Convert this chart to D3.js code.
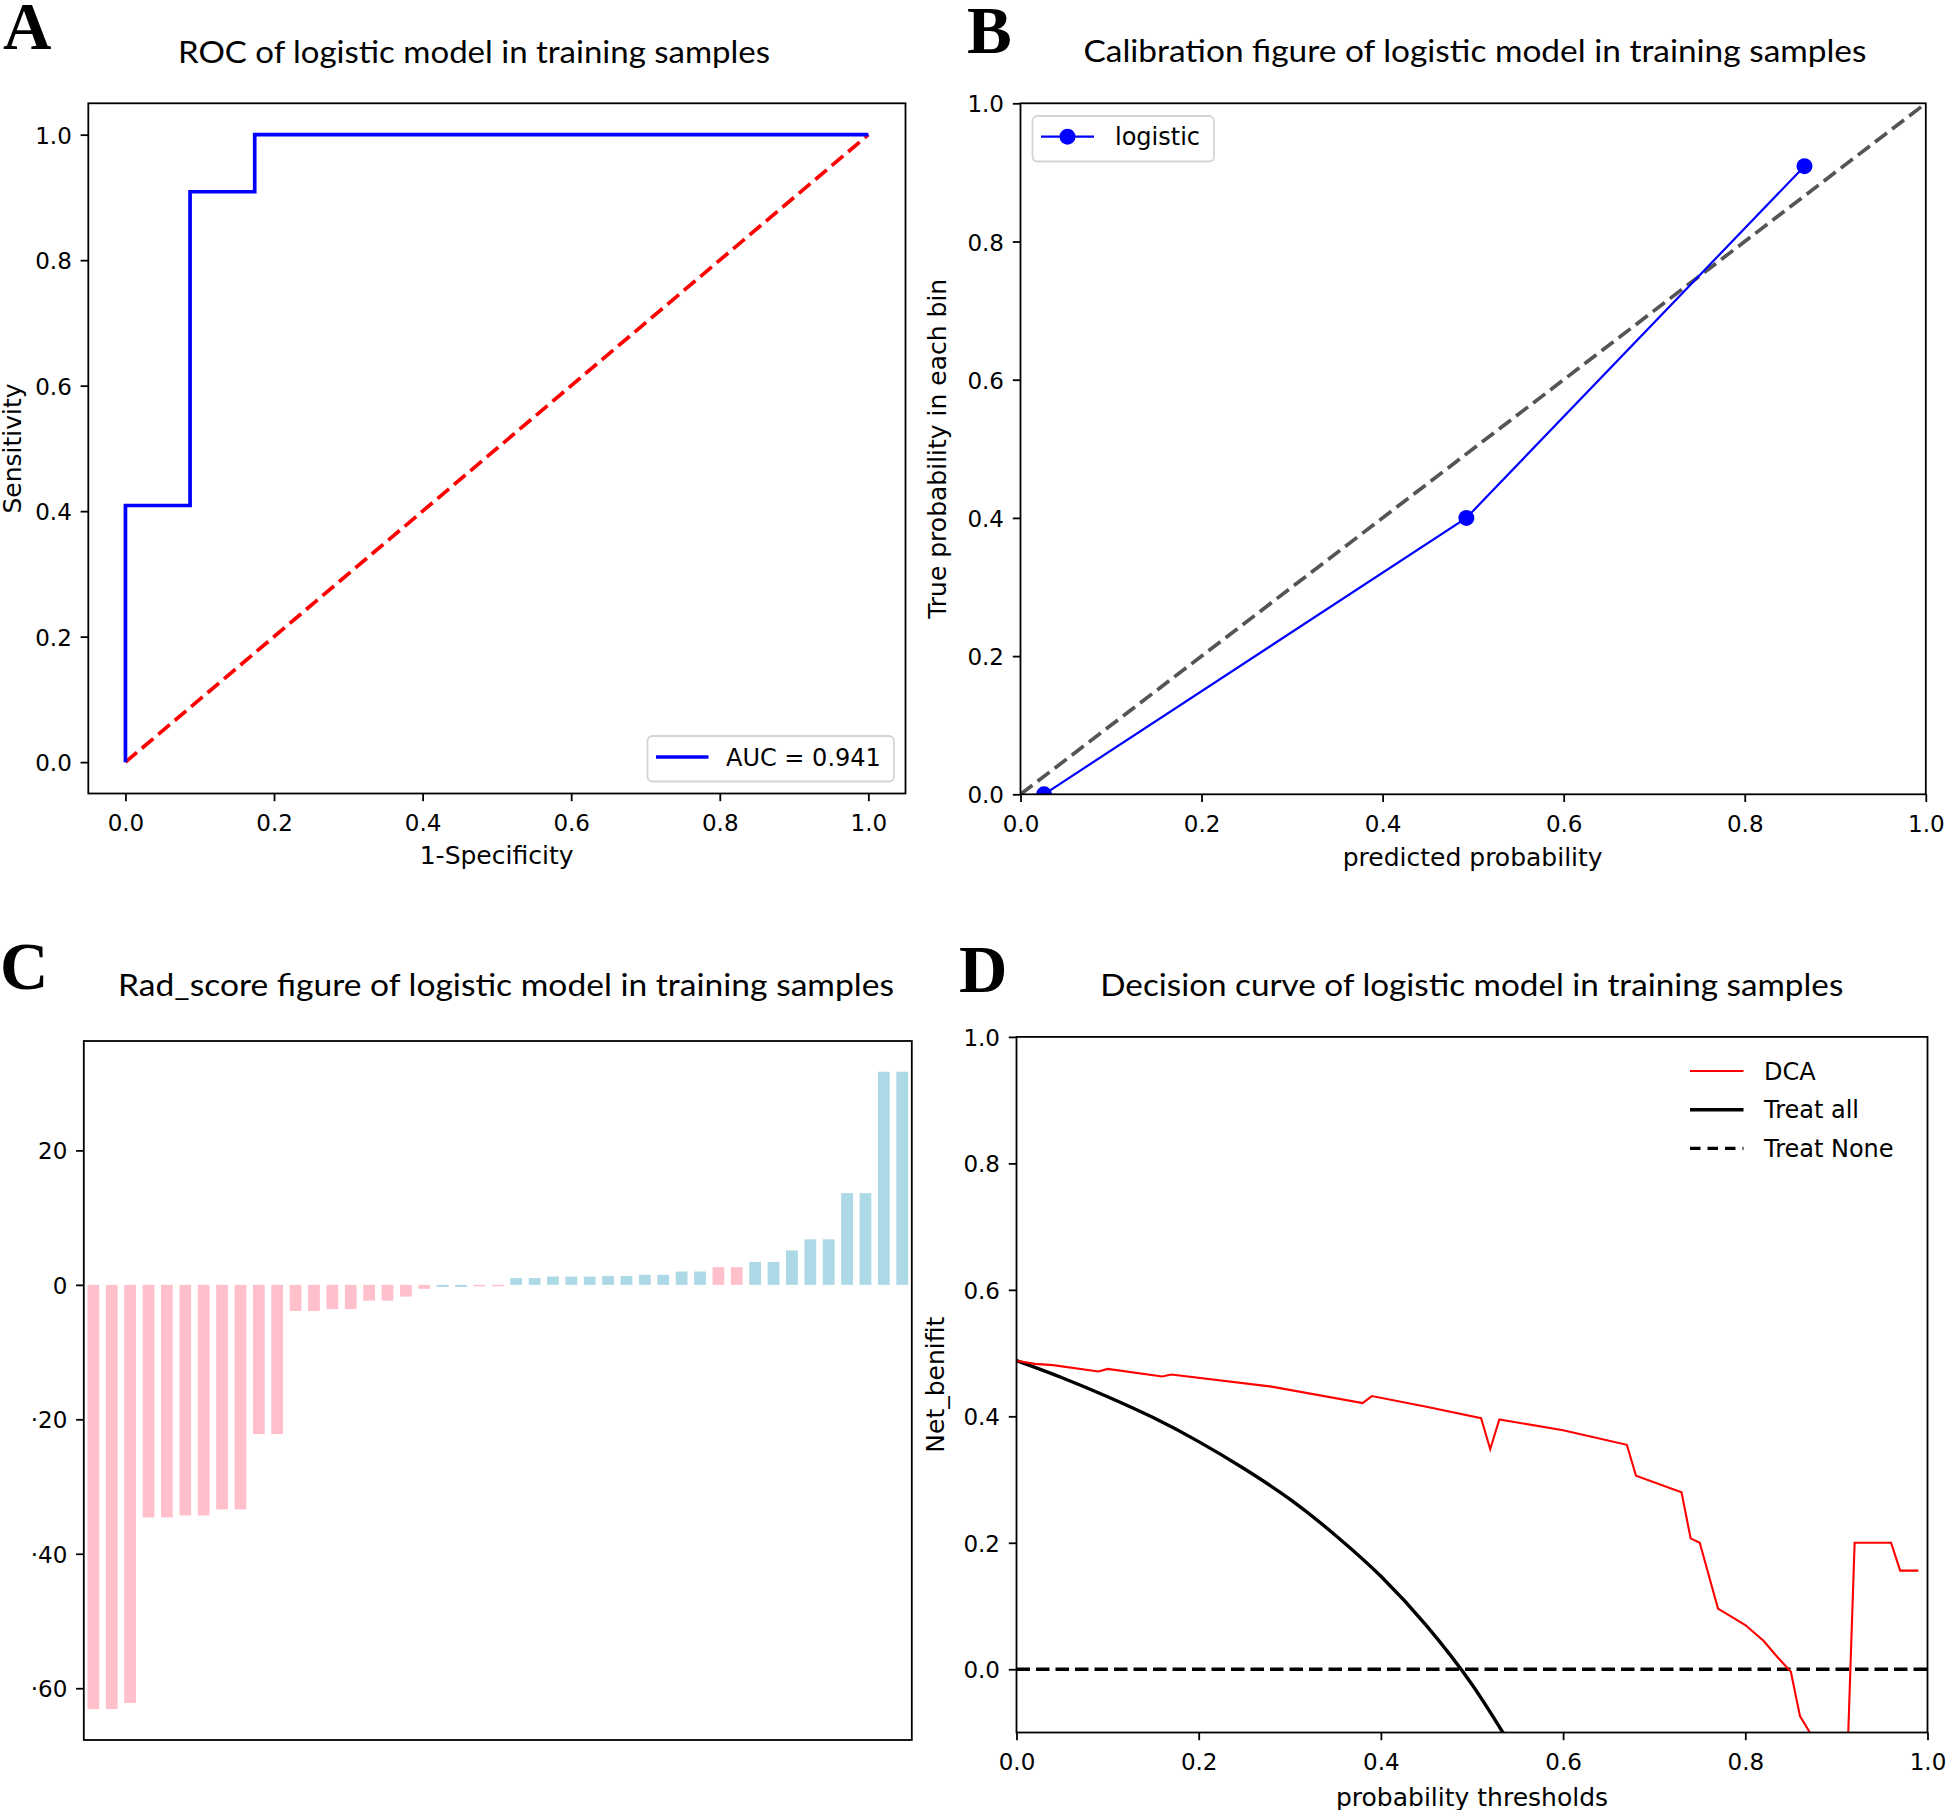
<!DOCTYPE html>
<html>
<head>
<meta charset="utf-8">
<script src="https://cdn.jsdelivr.net/npm/d3@7"></script>
<style>body{margin:0;background:#fff}</style>
</head>
<body>
<script>
// ---------- data ----------
// A: ROC
var rocFpr = [0, 0, 0.087, 0.087, 0.174, 0.174, 1];
var rocTpr = [0, 0.409, 0.409, 0.909, 0.909, 1, 1];
var rocChance = [0, 1];
var rocAuc = "AUC = 0.941";

// B: calibration
var calPred = [0.026, 0.4925, 0.866];
var calTrue = [0.0, 0.4, 0.909];
var calPerfect = [0, 1];

// C: rad_score (sorted), class 0 = pink, 1 = lightblue
var radScore = [-63.1, -63.1, -62.2, -34.6, -34.6, -34.3, -34.3, -33.4, -33.4, -22.2, -22.2,
  -3.9, -3.9, -3.6, -3.6, -2.35, -2.35, -1.75, -0.6, -0.3, -0.3, -0.2, -0.2,
  1.0, 1.0, 1.23, 1.23, 1.23, 1.33, 1.33, 1.49, 1.49, 1.98, 1.98, 2.63, 2.63,
  3.42, 3.42, 5.13, 6.77, 6.77, 13.65, 13.65, 31.7, 31.7];
var radClass = [0,0,0,0,0,0,0,0,0,0,0,0,0,0,0,0,0,0,0,1,1,0,0,1,1,1,1,1,1,1,1,1,1,1,0,0,1,1,1,1,1,1,1,1,1];
var radTicks = [20, 0, -20, -40, -60];

// D: decision curve
var dcaX = [0, 0.02, 0.04, 0.09, 0.10, 0.16, 0.17, 0.28, 0.38, 0.39, 0.45, 0.51, 0.52, 0.53, 0.60, 0.67, 0.68,
  0.73, 0.74, 0.75, 0.77, 0.80, 0.82, 0.833, 0.85, 0.86, 0.87, 0.88, 0.89, 0.90, 0.91, 0.92, 0.96, 0.97, 0.99];
var dcaY = [0.488, 0.483, 0.481, 0.471, 0.475, 0.463, 0.466, 0.447, 0.421, 0.432, 0.415, 0.397, 0.348, 0.395, 0.378, 0.355, 0.306,
  0.280, 0.207, 0.200, 0.096, 0.070, 0.045, 0.023, -0.004, -0.074, -0.098, -0.16, -0.20, -0.22, -0.23, 0.200, 0.200, 0.156, 0.156];
var allX = [0, 0.05, 0.1, 0.15, 0.2, 0.25, 0.3, 0.35, 0.4, 0.45, 0.5, 0.55];
var allY = [0.488, 0.461, 0.431, 0.398, 0.360, 0.317, 0.269, 0.212, 0.147, 0.069, -0.024, -0.138];
var noneX = [0, 1];
var noneY = [0, 0];

var unitTicks = [0, 0.2, 0.4, 0.6, 0.8, 1.0];

// ---------- setup ----------
var tickFont = "'DejaVu Sans', sans-serif";
var titleFont = "Lato, 'Open Sans', sans-serif";
var letterFont = "'Liberation Serif', 'DejaVu Serif', serif";

var svg = d3.select("body").append("svg")
  .attr("width", 1946).attr("height", 1810)
  .style("background", "#fff");

var fmt1 = d3.format(".1f");

function clipFor(id, x0, x1, y0, y1) {
  svg.append("clipPath").attr("id", id).append("rect")
    .attr("x", x0).attr("y", y0).attr("width", x1 - x0).attr("height", y1 - y0);
  return svg.append("g").attr("clip-path", "url(#" + id + ")");
}

function frame(x0, x1, y0, y1) {
  svg.append("rect").attr("x", x0).attr("y", y0)
    .attr("width", x1 - x0).attr("height", y1 - y0)
    .attr("fill", "none").attr("stroke", "#000").attr("stroke-width", 1.8);
}

function xAxis(scale, ticks, yPos, f) {
  var a = svg.append("g").attr("transform", "translate(0," + yPos + ")")
    .call(d3.axisBottom(scale).tickValues(ticks).tickSize(7.7).tickFormat(f));
  a.select(".domain").remove();
  a.selectAll(".tick line").attr("stroke", "#000").attr("stroke-width", 1.8);
  a.selectAll(".tick text").attr("y", 37.5).attr("dy", null).attr("fill", "#000")
    .style("font-family", tickFont).style("font-size", "23px");
}

function yAxis(scale, ticks, xPos, f) {
  var a = svg.append("g").attr("transform", "translate(" + xPos + ",0)")
    .call(d3.axisLeft(scale).tickValues(ticks).tickSize(7.7).tickFormat(f));
  a.select(".domain").remove();
  a.selectAll(".tick line").attr("stroke", "#000").attr("stroke-width", 1.8);
  a.selectAll(".tick text").attr("x", -16.5).attr("y", 8.5).attr("dy", null).attr("fill", "#000")
    .style("font-family", tickFont).style("font-size", "23px");
}

function label(txt, x, y, rot) {
  var t = svg.append("text").attr("text-anchor", "middle")
    .style("font-family", tickFont).style("font-size", "25px").attr("fill", "#000").text(txt);
  if (rot) t.attr("transform", "translate(" + x + "," + y + ") rotate(-90)");
  else t.attr("x", x).attr("y", y);
}

function title(txt, cx, y, w) {
  svg.append("text").attr("x", cx).attr("y", y).attr("text-anchor", "middle")
    .attr("textLength", w).attr("lengthAdjust", "spacingAndGlyphs")
    .style("font-family", titleFont).style("font-size", "31px").attr("fill", "#000").text(txt);
}

function letter(txt, x, y) {
  svg.append("text").attr("x", x).attr("y", y)
    .style("font-family", letterFont).style("font-weight", "bold").style("font-size", "67px")
    .attr("fill", "#000").text(txt);
}

function legendBox(x0, y0, x1, y1) {
  svg.append("rect").attr("x", x0).attr("y", y0).attr("width", x1 - x0).attr("height", y1 - y0)
    .attr("rx", 5).attr("fill", "#fff").attr("fill-opacity", 0.8)
    .attr("stroke", "#d4d4d4").attr("stroke-width", 1.8);
}

// ---------- A: ROC ----------
var ax = d3.scaleLinear().domain([-0.05, 1.05]).range([88.3, 905.5]);
var ay = d3.scaleLinear().domain([-0.05, 1.05]).range([793.5, 103.3]);
var ga = clipFor("clipA", 88.3, 905.5, 103.3, 793.5);

ga.append("path").datum(d3.range(rocChance.length))
  .attr("d", d3.line().x(function (i) { return ax(rocChance[i]); }).y(function (i) { return ay(rocChance[i]); }))
  .attr("fill", "none").attr("stroke", "#ff0000").attr("stroke-width", 3.7)
  .attr("stroke-dasharray", "15,6.5");

ga.append("path").datum(d3.range(rocFpr.length))
  .attr("d", d3.line().x(function (i) { return ax(rocFpr[i]); }).y(function (i) { return ay(rocTpr[i]); }))
  .attr("fill", "none").attr("stroke", "#0000ff").attr("stroke-width", 3.7);

frame(88.3, 905.5, 103.3, 793.5);
xAxis(ax, unitTicks, 793.5, fmt1);
yAxis(ay, unitTicks, 88.3, fmt1);

legendBox(647.5, 736, 894, 781.5);
svg.append("line").attr("x1", 656).attr("x2", 708.5).attr("y1", 757).attr("y2", 757)
  .attr("stroke", "#0000ff").attr("stroke-width", 3.7);
svg.append("text").attr("x", 726).attr("y", 765.5)
  .style("font-family", tickFont).style("font-size", "24px").attr("fill", "#000").text(rocAuc);

label("1-Specificity", 496.6, 864);
label("Sensitivity", 21, 448.5, true);
title("ROC of logistic model in training samples", 474, 63.3, 592);
letter("A", 3, 49.3);

// ---------- B: calibration ----------
var bx = d3.scaleLinear().domain([0, 1]).range([1020.5, 1925.8]);
var by = d3.scaleLinear().domain([0, 1]).range([794.3, 103.3]);
var gb = clipFor("clipB", 1020.5, 1925.8, 103.3, 794.3);

gb.append("path").datum(d3.range(calPerfect.length))
  .attr("d", d3.line().x(function (i) { return bx(calPerfect[i]); }).y(function (i) { return by(calPerfect[i]); }))
  .attr("fill", "none").attr("stroke", "#555").attr("stroke-width", 3.7)
  .attr("stroke-dasharray", "15,6.5");

gb.append("path").datum(d3.range(calPred.length))
  .attr("d", d3.line().x(function (i) { return bx(calPred[i]); }).y(function (i) { return by(calTrue[i]); }))
  .attr("fill", "none").attr("stroke", "#0000ff").attr("stroke-width", 2.2);

gb.selectAll("circle.cal").data(d3.range(calPred.length)).enter().append("circle")
  .attr("class", "cal")
  .attr("cx", function (i) { return bx(calPred[i]); })
  .attr("cy", function (i) { return by(calTrue[i]); })
  .attr("r", 8).attr("fill", "#0000ff");

frame(1020.5, 1925.8, 103.3, 794.3);
xAxis(bx, unitTicks, 794.3, fmt1);
yAxis(by, unitTicks, 1020.5, fmt1);

legendBox(1032.5, 116, 1214, 161.5);
svg.append("line").attr("x1", 1041).attr("x2", 1094).attr("y1", 136.7).attr("y2", 136.7)
  .attr("stroke", "#0000ff").attr("stroke-width", 2.2);
svg.append("circle").attr("cx", 1067.5).attr("cy", 136.7).attr("r", 8).attr("fill", "#0000ff");
svg.append("text").attr("x", 1115).attr("y", 145)
  .style("font-family", tickFont).style("font-size", "24px").attr("fill", "#000").text("logistic");

label("predicted probability", 1472.7, 866);
label("True probability in each bin", 946, 448.8, true);
title("Calibration figure of logistic model in training samples", 1475, 62, 783);
letter("B", 967, 53.2);

// ---------- C: rad score bars ----------
var cx = d3.scaleBand().domain(d3.range(radScore.length)).range([83.8, 911.8])
  .paddingInner(0.36).paddingOuter(0.2);
var cy = d3.scaleLinear().domain([-67.7, 36.27]).range([1740, 1041]);
var gc = clipFor("clipC", 83.8, 911.8, 1041, 1740);

gc.selectAll("rect.bar").data(d3.range(radScore.length)).enter().append("rect")
  .attr("class", "bar")
  .attr("x", function (i) { return cx(i); })
  .attr("width", cx.bandwidth())
  .attr("y", function (i) { return cy(Math.max(0, radScore[i])); })
  .attr("height", function (i) { return Math.max(1.5, Math.abs(cy(radScore[i]) - cy(0))); })
  .attr("fill", function (i) { return radClass[i] ? "#add8e6" : "#ffc0cb"; });

frame(83.8, 911.8, 1041, 1740);
yAxis(cy, radTicks, 83.8, function (d) { return d < 0 ? "\u00b7" + Math.abs(d) : String(d); });

title("Rad_score figure of logistic model in training samples", 506, 995.9, 776);
letter("C", 0, 989);

// ---------- D: decision curve ----------
var dx = d3.scaleLinear().domain([0, 1]).range([1016.5, 1927.5]);
var dy = d3.scaleLinear().domain([-0.1, 1.0]).range([1732.5, 1036.9]);
var gd = clipFor("clipD", 1016.5, 1927.5, 1036.9, 1732.5);

gd.append("path").datum(d3.range(noneX.length))
  .attr("d", d3.line().x(function (i) { return dx(noneX[i]); }).y(function (i) { return dy(noneY[i]); }))
  .attr("fill", "none").attr("stroke", "#000").attr("stroke-width", 3.4)
  .attr("stroke-dasharray", "13.5,6");

gd.append("path").datum(d3.range(allX.length))
  .attr("d", d3.line().curve(d3.curveMonotoneX)
    .x(function (i) { return dx(allX[i]); }).y(function (i) { return dy(allY[i]); }))
  .attr("fill", "none").attr("stroke", "#000").attr("stroke-width", 3.4);

gd.append("path").datum(d3.range(dcaX.length))
  .attr("d", d3.line().x(function (i) { return dx(dcaX[i]); }).y(function (i) { return dy(dcaY[i]); }))
  .attr("fill", "none").attr("stroke", "#ff0000").attr("stroke-width", 2.1);

frame(1016.5, 1927.5, 1036.9, 1732.5);
xAxis(dx, unitTicks, 1732.5, fmt1);
yAxis(dy, unitTicks, 1016.5, fmt1);

// legend (no frame)
var dLeg = [
  { name: "DCA", color: "#ff0000", w: 2.1, dash: null },
  { name: "Treat all", color: "#000", w: 3.4, dash: null },
  { name: "Treat None", color: "#000", w: 3.4, dash: "10.5,7" }
];
dLeg.forEach(function (d, i) {
  var yy = 1071 + i * 38.7;
  var l = svg.append("line").attr("x1", 1690).attr("x2", 1743.5).attr("y1", yy).attr("y2", yy)
    .attr("stroke", d.color).attr("stroke-width", d.w);
  if (d.dash) l.attr("stroke-dasharray", d.dash);
  svg.append("text").attr("x", 1764).attr("y", yy + 8.5)
    .style("font-family", tickFont).style("font-size", "24px").attr("fill", "#000").text(d.name);
});

label("probability thresholds", 1472, 1806);
label("Net_benifit", 944, 1384.7, true);
title("Decision curve of logistic model in training samples", 1471.8, 995.9, 743);
letter("D", 959, 992);
</script>
</body>
</html>
